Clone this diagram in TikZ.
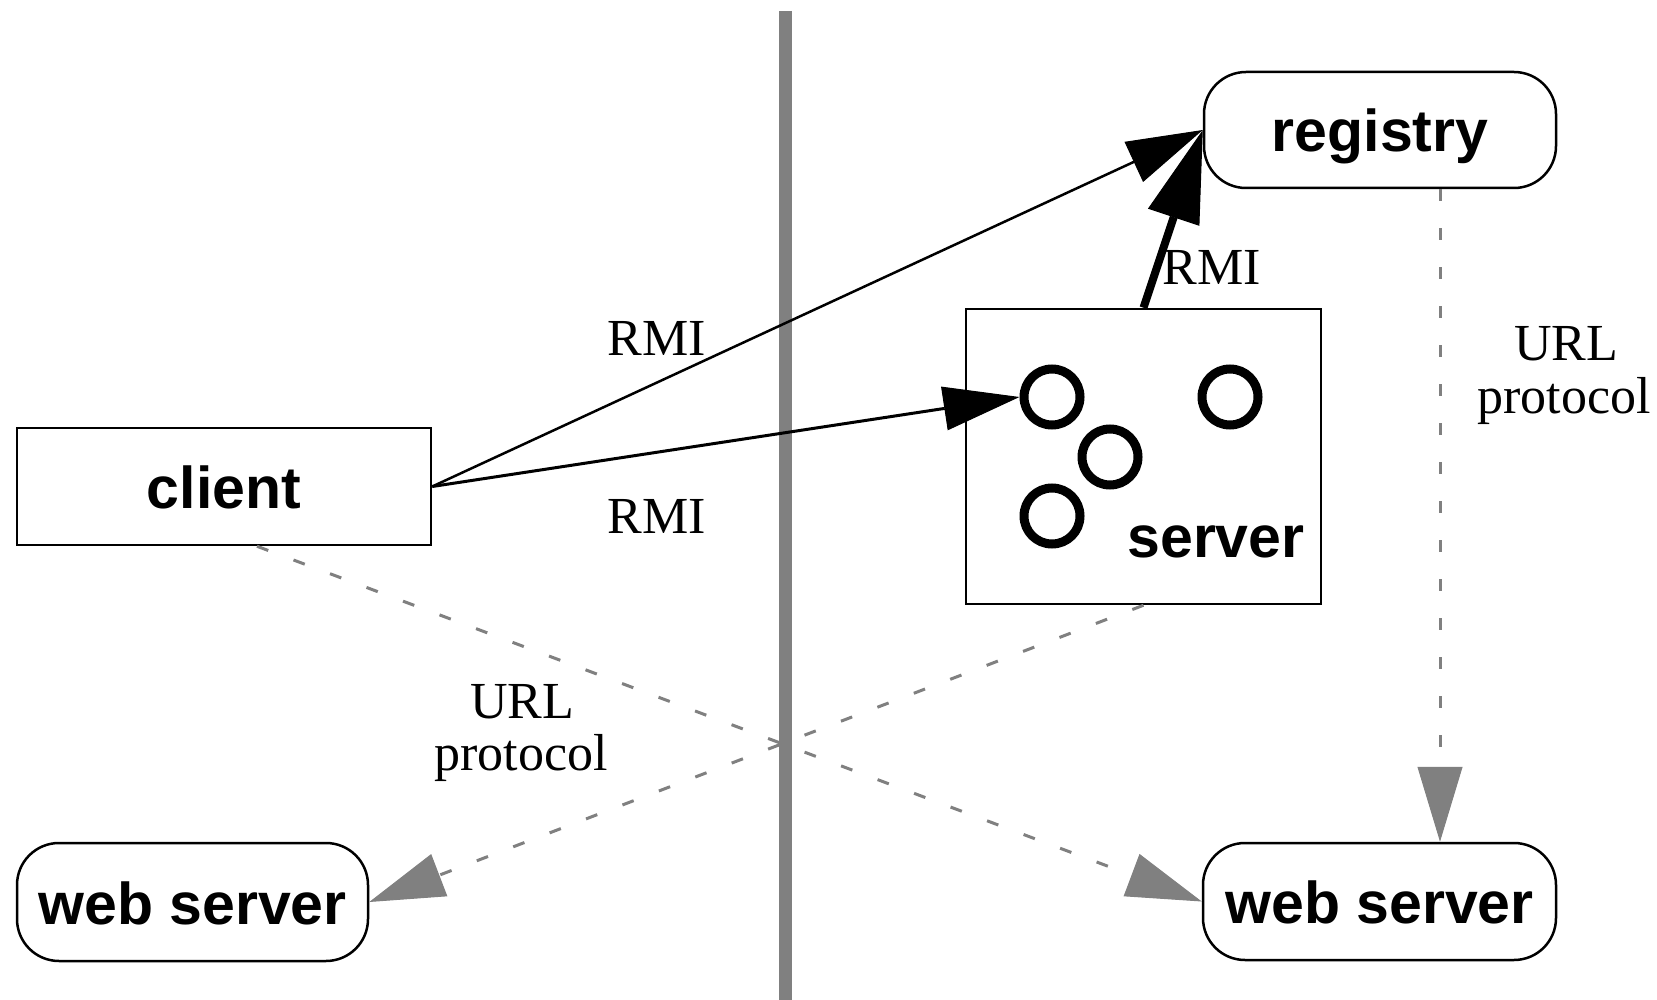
\documentclass[tikz,border=0pt]{standalone}
\usepackage{fontspec}
\setmainfont{Liberation Serif}
\newfontfamily\boxsans{Liberation Sans}
\usetikzlibrary{arrows.meta}
\definecolor{midgray}{RGB}{128,128,128}
\begin{document}
\begin{tikzpicture}[x=1pt,y=-1pt,
  boxtext/.style={font=\boxsans\bfseries\fontsize{59}{60}\selectfont},
  box/.style={boxtext, draw=black, line width=2.5pt, inner sep=0pt,
    text height=44pt, text depth=0pt},
  pill/.style={box, rounded corners=42pt},
  obj/.style={circle, draw=black, line width=9pt, inner sep=0pt, minimum size=56pt},
  lbl/.style={font=\fontsize{52}{53}\selectfont, inner sep=0pt, anchor=base},
  rmi/.style={draw=black, line width=2.5pt,
    -{Triangle[length=76pt, width=44pt, line width=1pt]}},
  bind/.style={draw=black, line width=8pt,
    -{Triangle[length=92pt, width=54pt, line width=1pt]}},
  url/.style={draw=midgray, line width=3pt, dash pattern=on 12pt off 27pt,
    -{Triangle[length=75pt, width=45pt, line width=1pt]}}
]
% canvas
\fill[white] (0,0) rectangle (1657,1000);
\useasboundingbox (0,0) rectangle (1657,1000);

% machine boundary
\draw[midgray, line width=13pt] (785.5,11) -- (785.5,1000);

% hosts and services
\node[box, minimum width=414pt, minimum height=117pt] (client) at (224,486.5) {client};
\node[box, minimum width=355pt, minimum height=295pt] (server) at (1143.5,456.5) {};
\node[boxtext, inner sep=0pt, anchor=base] (servername) at (1216,557) {server};
\node[pill, minimum width=352pt, minimum height=116pt] (registry) at (1380,130) {registry};
\node[pill, minimum width=351pt, minimum height=118pt] (wsL) at (192.5,902) {web server};
\node[pill, minimum width=353pt, minimum height=117pt] (wsR) at (1379.5,901.5) {web server};

% remote objects inside the server
\node[obj] (c1) at (1052,397) {};
\node[obj] (c2) at (1230,397) {};
\node[obj] (c3) at (1110,457) {};
\node[obj] (c4) at (1052,516) {};

% free ends of the class-loading links
\coordinate (clientout) at ([xshift=33pt]client.south);
\coordinate (regout) at ([xshift=60pt]registry.south);

% URL protocol links
\draw[url] (clientout) -- (wsR.west);
\draw[url] (server.south) -- (wsL.east);
\draw[url] (regout) -- (regout |- wsR.north);

% RMI links
\draw[rmi] (client.east) -- (registry.west);
\draw[rmi, line width=3pt] (client.east) -- (c1.west);
\draw[bind] (server.north) -- (registry.west);

% labels
\node[lbl] (rmiA) at (657,355) {RMI};
\node[lbl] (rmiB) at (657,533) {RMI};
\node[lbl] (rmiC) at (1212,285) {RMI};
\node[lbl] (urlA) at (1566,360) {URL};
\node[lbl] (protoA) at (1564,413) {protocol};
\node[lbl] (urlB) at (522,718) {URL};
\node[lbl] (protoB) at (521,770) {protocol};
\end{tikzpicture}
\end{document}
